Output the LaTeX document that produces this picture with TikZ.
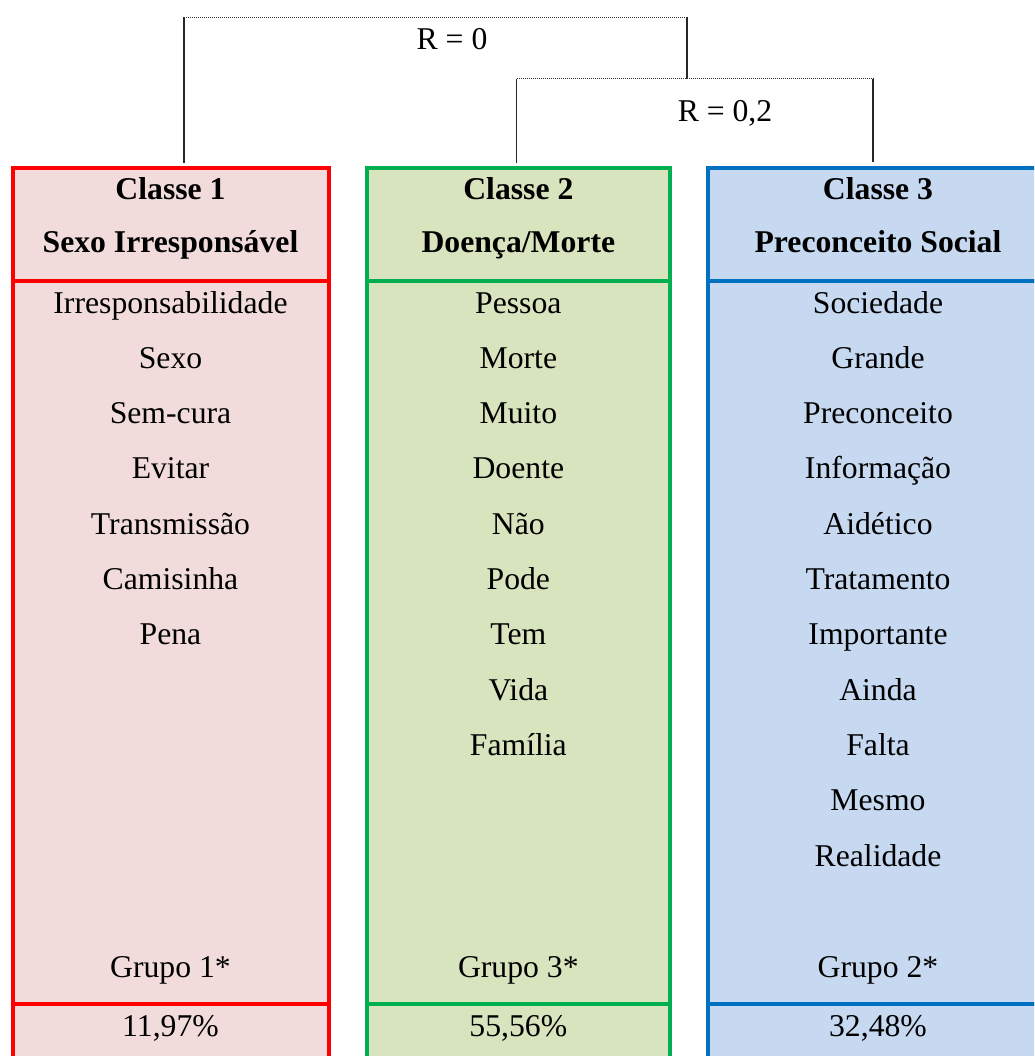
\documentclass[tikz,border=0pt]{standalone}
\usepackage{fontspec}
\setmainfont{Liberation Serif}
\usepackage{tikz}
\usetikzlibrary{positioning}
\definecolor{c1line}{HTML}{FF0000}
\definecolor{c1fill}{HTML}{F2DCDB}
\definecolor{c2line}{HTML}{00B050}
\definecolor{c2fill}{HTML}{D7E4BD}
\definecolor{c3line}{HTML}{0070C0}
\definecolor{c3fill}{HTML}{C6D9F1}
\tikzset{
  cell/.style={rectangle, draw, line width=4pt, outer sep=0pt, inner sep=0pt},
  redc/.style={cell, fill=c1fill, draw=c1line, minimum width=316pt},
  greenc/.style={cell, fill=c2fill, draw=c2line, minimum width=302.7pt},
  bluec/.style={cell, fill=c3fill, draw=c3line, minimum width=340pt},
  head/.style={minimum height=113.3pt},
  bodyc/.style={minimum height=722.4pt},
  pct/.style={minimum height=80pt},
  txt/.style={font=\fontsize{31.7}{38}\selectfont, anchor=base, inner sep=0pt},
  htxt/.style={txt, font=\fontsize{31.7}{38}\selectfont\bfseries},
  stem/.style={line width=1.4pt, black!85},
  link/.style={line width=1pt, densely dotted, black!80},
}

\begin{document}
\begin{tikzpicture}[x=1pt,y=-1pt]
\clip (0,0) rectangle (1034,1056);
% columns
\node[redc, head, anchor=north] (h1) at (170.5,168) {};
\node[redc, bodyc, below=0pt of h1] (b1) {};
\node[redc, pct, below=0pt of b1] (p1) {};
\node[greenc, head, anchor=north] (h2) at (518.35,168) {};
\node[greenc, bodyc, below=0pt of h2] (b2) {};
\node[greenc, pct, below=0pt of b2] (p2) {};
\node[bluec, head, anchor=north] (h3) at (878,168) {};
\node[bluec, bodyc, below=0pt of h3] (b3) {};
\node[bluec, pct, below=0pt of b3] (p3) {};
% headers
\node[htxt] (n1) at (170.5,200) {Classe 1};
\node[htxt] (s1) at (170.5,253) {Sexo Irresponsável};
\node[htxt] (n2) at (518.35,200) {Classe 2};
\node[htxt] (s2) at (518.35,253) {Doença/Morte};
\node[htxt] (n3) at (878,200) {Classe 3};
\node[htxt] (s3) at (878,253) {Preconceito Social};
% words
\foreach \w [count=\i from 0] in {Irresponsabilidade,Sexo,Sem-cura,Evitar,Transmissão,Camisinha,Pena}
  \node[txt] (wa\i) at (170.5,313+55.3*\i) {\w};
\foreach \w [count=\i from 0] in {Pessoa,Morte,Muito,Doente,Não,Pode,Tem,Vida,Família}
  \node[txt] (wb\i) at (518.35,313+55.3*\i) {\w};
\foreach \w [count=\i from 0] in {Sociedade,Grande,Preconceito,Informação,Aidético,Tratamento,Importante,Ainda,Falta,Mesmo,Realidade}
  \node[txt] (wc\i) at (878,313+55.3*\i) {\w};
\node[txt] (g1) at (170.5,977) {Grupo 1*};
\node[txt] (g2) at (518.35,977) {Grupo 3*};
\node[txt] (g3) at (878,977) {Grupo 2*};
\node[txt] (q1) at (170.5,1036) {11,97\%};
\node[txt] (q2) at (518.35,1036) {55,56\%};
\node[txt] (q3) at (878,1036) {32,48\%};
% dendrogram
\coordinate (t1) at (184,163);
\coordinate (k1) at (184,17.3);
\coordinate (k0) at (687,17.3);
\coordinate (m0) at (687,79);
\coordinate (k2) at (516.5,79);
\coordinate (k3) at (873,79);
\coordinate (t2) at (516.5,163);
\coordinate (t3) at (873,162);
\draw[stem] (t1) -- (k1);
\draw[link] (k1) -- (k0);
\draw[stem] (k0) -- (m0);
\draw[link] (k2) -- (k3);
\draw[stem] (k2) -- (t2);
\draw[stem] (k3) -- (t3);
\node[txt] (r0) at (452,50) {R = 0};
\node[txt] (r2) at (725,121.7) {R = 0,2};
\end{tikzpicture}
\end{document}
